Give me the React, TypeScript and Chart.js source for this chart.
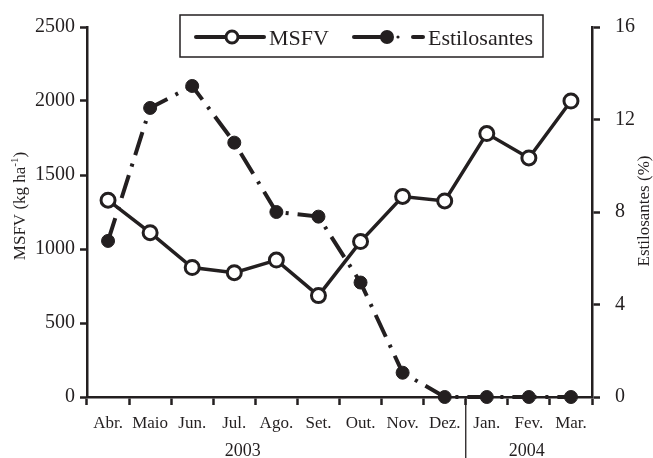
import React, { useEffect, useRef } from "react";
import { Chart, registerables } from "chart.js";

Chart.register(...registerables);

const months = ["Abr.", "Maio", "Jun.", "Jul.", "Ago.", "Set.", "Out.", "Nov.", "Dez.", "Jan.", "Fev.", "Mar."];
const msfv = [1330, 1110, 875, 840, 925, 685, 1050, 1355, 1325, 1780, 1615, 2000];
const estilosantes = [6.75, 12.5, 13.45, 11.0, 8.0, 7.8, 4.95, 1.05, 0, 0, 0, 0];
const leftTicks = [0, 500, 1000, 1500, 2000, 2500];
const rightTicks = [0, 4, 8, 12, 16];
const years = ["2003", "2004"];
const yearCenters = [3.2, 9.95];
const yearBreak = 8.5;

const SERIF = '"Liberation Serif", "Times New Roman", serif';
const INK = "#231f20";

const overlay = {
  id: "overlay",
  afterDraw(chart: any) {
    const ctx = chart.ctx;
    const x = chart.scales.x;
    ctx.save();
    // year separator
    const sx = x.getPixelForValue(yearBreak);
    ctx.strokeStyle = INK;
    ctx.lineWidth = 1.3;
    ctx.beginPath();
    ctx.moveTo(sx, x.top);
    ctx.lineTo(sx, chart.height);
    ctx.stroke();
    // year labels
    ctx.fillStyle = INK;
    ctx.font = `18px ${SERIF}`;
    ctx.textAlign = "center";
    ctx.textBaseline = "middle";
    years.forEach((y, i) => {
      ctx.fillText(y, x.getPixelForValue(yearCenters[i]), 451);
    });
    // left axis title
    ctx.save();
    ctx.translate(21, (chart.chartArea.top + chart.chartArea.bottom) / 2 - 6);
    ctx.rotate(-Math.PI / 2);
    const main = "MSFV (kg ha";
    const sup = "-1";
    const end = ")";
    ctx.font = `17px ${SERIF}`;
    const w1 = ctx.measureText(main).width;
    ctx.font = `11px ${SERIF}`;
    const w2 = ctx.measureText(sup).width;
    ctx.font = `17px ${SERIF}`;
    const w3 = ctx.measureText(end).width;
    const total = w1 + w2 + w3;
    ctx.textAlign = "left";
    ctx.textBaseline = "middle";
    ctx.fillText(main, -total / 2, 0);
    ctx.font = `11px ${SERIF}`;
    ctx.fillText(sup, -total / 2 + w1, -6);
    ctx.font = `17px ${SERIF}`;
    ctx.fillText(end, -total / 2 + w1 + w2, 0);
    ctx.restore();
    // right axis title
    ctx.save();
    ctx.translate(645, (chart.chartArea.top + chart.chartArea.bottom) / 2 - 1);
    ctx.rotate(-Math.PI / 2);
    ctx.font = `17px ${SERIF}`;
    ctx.textAlign = "center";
    ctx.textBaseline = "middle";
    ctx.fillText("Estilosantes (%)", 0, 0);
    ctx.restore();
    // legend
    ctx.fillStyle = "#ffffff";
    ctx.fillRect(180, 15, 363, 42);
    ctx.strokeStyle = INK;
    ctx.lineWidth = 1.5;
    ctx.strokeRect(180, 15, 363, 42);
    const ly = 37;
    ctx.lineWidth = 4;
    ctx.lineCap = "round";
    ctx.beginPath();
    ctx.moveTo(196, ly);
    ctx.lineTo(264, ly);
    ctx.stroke();
    ctx.beginPath();
    ctx.arc(232, ly, 6, 0, Math.PI * 2);
    ctx.fillStyle = "#ffffff";
    ctx.fill();
    ctx.lineWidth = 3;
    ctx.stroke();
    ctx.fillStyle = INK;
    ctx.font = `22px ${SERIF}`;
    ctx.textAlign = "left";
    ctx.textBaseline = "alphabetic";
    ctx.fillText("MSFV", 269, 45);
    ctx.lineWidth = 4;
    ctx.beginPath();
    ctx.moveTo(354, ly);
    ctx.lineTo(387, ly);
    ctx.stroke();
    ctx.beginPath();
    ctx.arc(387, ly, 7, 0, Math.PI * 2);
    ctx.fill();
    ctx.beginPath();
    ctx.arc(398, ly, 1.6, 0, Math.PI * 2);
    ctx.fill();
    ctx.beginPath();
    ctx.moveTo(413, ly);
    ctx.lineTo(423, ly);
    ctx.stroke();
    ctx.fillText("Estilosantes", 428, 45);
    ctx.restore();
  },
};

export default function App() {
  const ref = useRef<HTMLCanvasElement>(null);
  useEffect(() => {
    if (!ref.current) return;
    const chart = new Chart(ref.current, {
      type: "line",
      data: {
        labels: months,
        datasets: [
          {
            label: "MSFV",
            data: msfv,
            yAxisID: "y",
            borderColor: INK,
            borderWidth: 3.5,
            pointRadius: 7,
            pointBorderWidth: 3,
            pointBackgroundColor: "#ffffff",
            pointBorderColor: INK,
            tension: 0,
            order: 0,
            clip: false as any,
          },
          {
            label: "Estilosantes",
            data: estilosantes,
            yAxisID: "y1",
            borderColor: INK,
            borderWidth: 4,
            borderDash: [24, 9, 3, 9],
            pointRadius: 6.5,
            pointBorderWidth: 1,
            pointBackgroundColor: INK,
            pointBorderColor: INK,
            tension: 0,
            order: 1,
            clip: false as any,
          },
        ],
      },
      options: {
        responsive: false,
        animation: false,
        layout: { padding: { top: 20, left: 0, right: 0, bottom: 0 } },
        plugins: { legend: { display: false }, tooltip: { enabled: false } },
        scales: {
          x: {
            type: "category",
            offset: true,
            grid: {
              display: true,
              drawOnChartArea: false,
              drawTicks: true,
              offset: true,
              tickLength: 8,
              tickColor: INK,
              tickWidth: 2.5,
            } as any,
            border: { display: true, color: INK, width: 2.5 },
            ticks: {
              color: INK,
              font: { family: SERIF, size: 17 },
              padding: 8,
              maxRotation: 0,
              autoSkip: false,
            },
            afterFit: (s: any) => {
              s.height = 61;
            },
          },
          y: {
            position: "left",
            min: 0,
            max: 2500,
            afterBuildTicks: (s: any) => {
              s.ticks = leftTicks.map((v) => ({ value: v }));
            },
            grid: {
              display: true,
              drawOnChartArea: false,
              tickLength: 7,
              tickColor: INK,
              tickWidth: 2.5,
            },
            border: { display: true, color: INK, width: 2.5 },
            ticks: {
              color: INK,
              font: { family: SERIF, size: 20 },
              padding: 5,
              callback: (v: any) => String(v),
            },
            afterFit: (s: any) => {
              s.width = 87;
            },
          },
          y1: {
            position: "right",
            min: 0,
            max: 16,
            afterBuildTicks: (s: any) => {
              s.ticks = rightTicks.map((v) => ({ value: v }));
            },
            grid: {
              display: true,
              drawOnChartArea: false,
              tickLength: 8,
              tickColor: INK,
              tickWidth: 2.5,
            },
            border: { display: true, color: INK, width: 2.5 },
            ticks: {
              color: INK,
              font: { family: SERIF, size: 20 },
              padding: 15,
              callback: (v: any) => String(v),
            },
            afterFit: (s: any) => {
              s.width = 61;
            },
          },
        },
      },
      plugins: [overlay],
    });
    return () => chart.destroy();
  }, []);
  return (
    <div style={{ position: "absolute", left: 0, top: 0, width: 653, height: 458, background: "#fff" }}>
      <canvas ref={ref} width={653} height={458} style={{ display: "block" }} />
    </div>
  );
}
